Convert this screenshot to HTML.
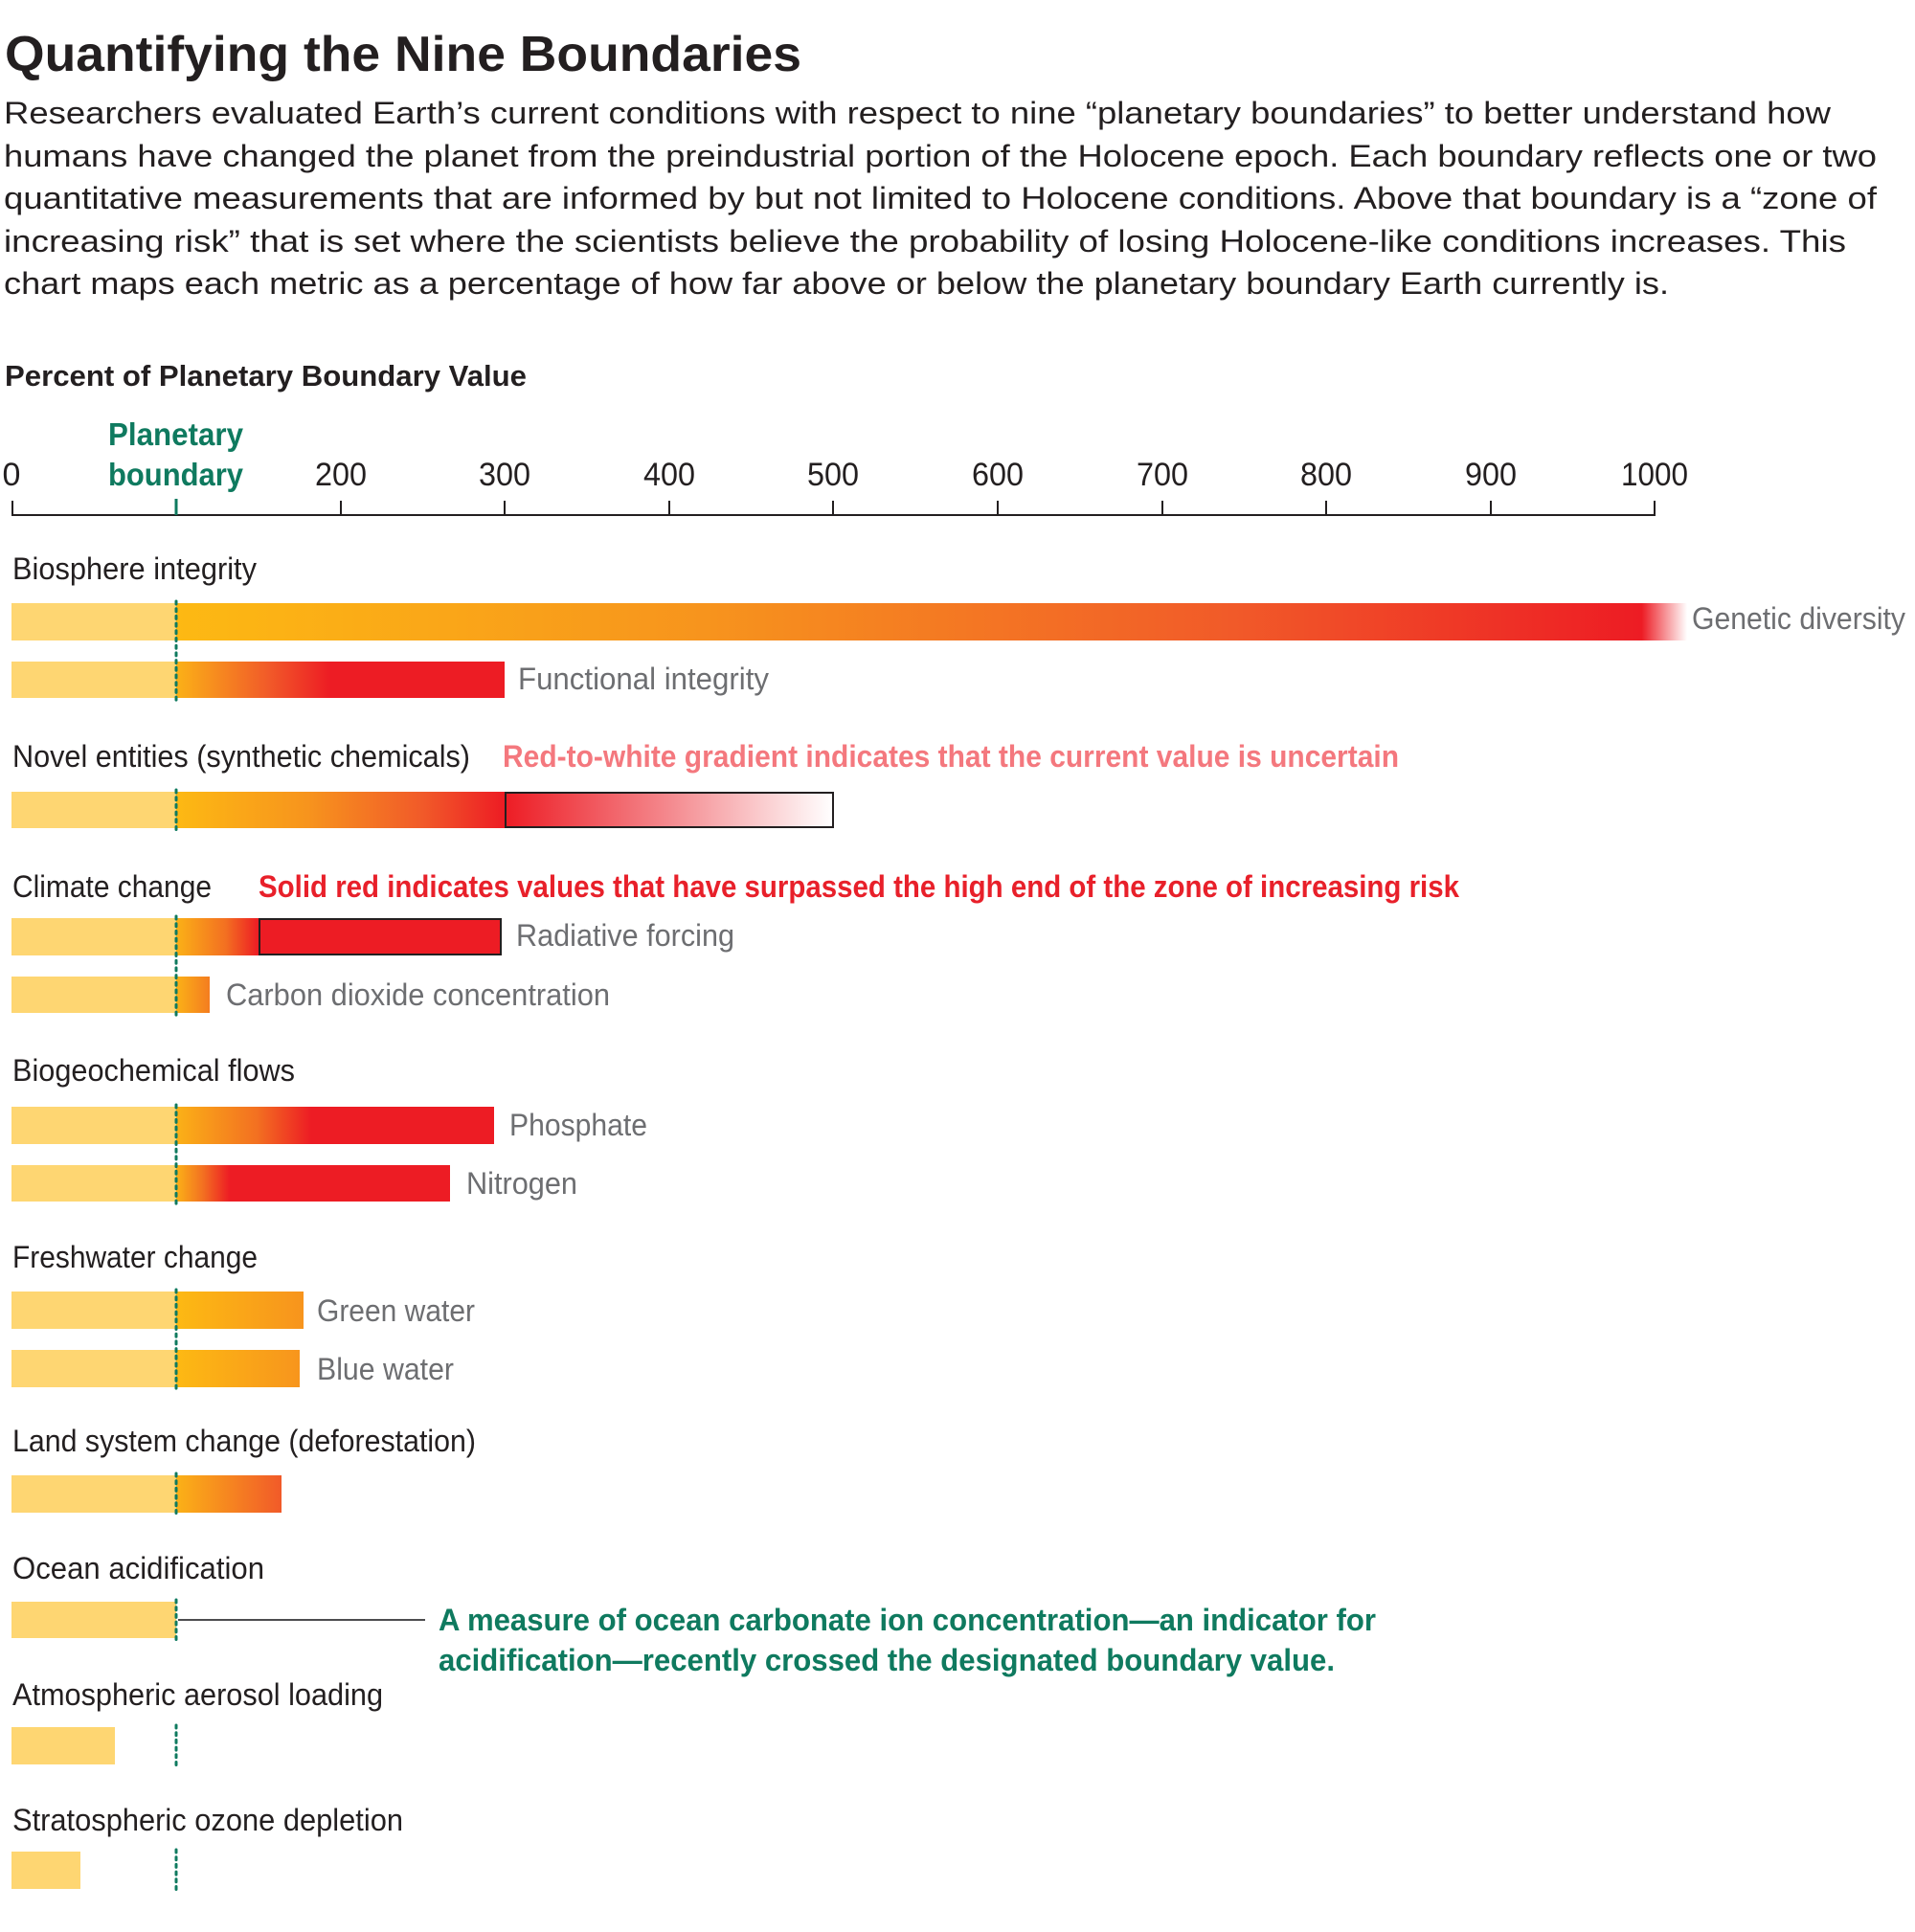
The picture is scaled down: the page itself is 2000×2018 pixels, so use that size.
<!DOCTYPE html>
<html><head><meta charset="utf-8"><style>html,body{margin:0;padding:0;background:#fff}svg{display:block}</style></head>
<body>
<svg width="2000" height="2018" viewBox="0 0 2000 2018" xmlns="http://www.w3.org/2000/svg" font-family="'Liberation Sans', sans-serif">
<defs>
<linearGradient id="gGen" gradientUnits="userSpaceOnUse" x1="184" x2="1762" y1="0" y2="0">
<stop offset="0" stop-color="#fdb913"/><stop offset="0.35" stop-color="#f7941d"/><stop offset="0.7" stop-color="#f15a29"/><stop offset="0.97" stop-color="#ed1c24"/><stop offset="1" stop-color="#fff"/>
</linearGradient>
<linearGradient id="gFun" gradientUnits="userSpaceOnUse" x1="184" x2="345" y1="0" y2="0">
<stop offset="0" stop-color="#fbb117"/><stop offset="0.6" stop-color="#f15a29"/><stop offset="1" stop-color="#ed1c24"/>
</linearGradient>
<linearGradient id="gNov" gradientUnits="userSpaceOnUse" x1="184" x2="527" y1="0" y2="0">
<stop offset="0" stop-color="#fdb913"/><stop offset="0.4" stop-color="#f7941d"/><stop offset="0.75" stop-color="#f15a29"/><stop offset="1" stop-color="#ed1c24"/>
</linearGradient>
<linearGradient id="gNovW" gradientUnits="userSpaceOnUse" x1="527" x2="870" y1="0" y2="0">
<stop offset="0" stop-color="#ed1c24"/><stop offset="0.5" stop-color="#f4898e"/><stop offset="1" stop-color="#fff"/>
</linearGradient>
<linearGradient id="gRad" gradientUnits="userSpaceOnUse" x1="184" x2="270" y1="0" y2="0">
<stop offset="0" stop-color="#fbb117"/><stop offset="0.6" stop-color="#f37021"/><stop offset="1" stop-color="#ed1c24"/>
</linearGradient>
<linearGradient id="gCO2" gradientUnits="userSpaceOnUse" x1="184" x2="220" y1="0" y2="0">
<stop offset="0" stop-color="#fbb117"/><stop offset="1" stop-color="#f47b20"/>
</linearGradient>
<linearGradient id="gPho" gradientUnits="userSpaceOnUse" x1="184" x2="325" y1="0" y2="0">
<stop offset="0" stop-color="#fbb117"/><stop offset="0.6" stop-color="#f37021"/><stop offset="1" stop-color="#ed1c24"/>
</linearGradient>
<linearGradient id="gNit" gradientUnits="userSpaceOnUse" x1="184" x2="240" y1="0" y2="0">
<stop offset="0" stop-color="#fbb117"/><stop offset="0.5" stop-color="#f37021"/><stop offset="1" stop-color="#ed1c24"/>
</linearGradient>
<linearGradient id="gWat" gradientUnits="userSpaceOnUse" x1="184" x2="317" y1="0" y2="0">
<stop offset="0" stop-color="#fdb913"/><stop offset="1" stop-color="#f7941d"/>
</linearGradient>
<linearGradient id="gLand" gradientUnits="userSpaceOnUse" x1="184" x2="294" y1="0" y2="0">
<stop offset="0" stop-color="#fbb117"/><stop offset="1" stop-color="#f15a29"/>
</linearGradient>
</defs>

<!-- Title & intro -->
<text x="5" y="74" font-size="52" font-weight="bold" fill="#231f20" textLength="832" lengthAdjust="spacingAndGlyphs">Quantifying the Nine Boundaries</text>
<g font-size="32" fill="#231f20">
<text x="4" y="129" textLength="1908" lengthAdjust="spacingAndGlyphs">Researchers evaluated Earth’s current conditions with respect to nine “planetary boundaries” to better understand how</text>
<text x="4" y="174" textLength="1956" lengthAdjust="spacingAndGlyphs">humans have changed the planet from the preindustrial portion of the Holocene epoch. Each boundary reflects one or two</text>
<text x="4" y="218" textLength="1956" lengthAdjust="spacingAndGlyphs">quantitative measurements that are informed by but not limited to Holocene conditions. Above that boundary is a “zone of</text>
<text x="4" y="263" textLength="1924" lengthAdjust="spacingAndGlyphs">increasing risk” that is set where the scientists believe the probability of losing Holocene-like conditions increases. This</text>
<text x="4" y="307" textLength="1739" lengthAdjust="spacingAndGlyphs">chart maps each metric as a percentage of how far above or below the planetary boundary Earth currently is.</text>
</g>
<text x="5" y="403" font-size="31" font-weight="bold" fill="#231f20" textLength="545" lengthAdjust="spacingAndGlyphs">Percent of Planetary Boundary Value</text>

<!-- Axis -->
<g font-size="34" fill="#231f20" text-anchor="middle">
<text x="12" y="507">0</text>
<text x="356" y="507" textLength="54" lengthAdjust="spacingAndGlyphs">200</text>
<text x="527" y="507" textLength="54" lengthAdjust="spacingAndGlyphs">300</text>
<text x="699" y="507" textLength="54" lengthAdjust="spacingAndGlyphs">400</text>
<text x="870" y="507" textLength="54" lengthAdjust="spacingAndGlyphs">500</text>
<text x="1042" y="507" textLength="54" lengthAdjust="spacingAndGlyphs">600</text>
<text x="1214" y="507" textLength="54" lengthAdjust="spacingAndGlyphs">700</text>
<text x="1385" y="507" textLength="54" lengthAdjust="spacingAndGlyphs">800</text>
<text x="1557" y="507" textLength="54" lengthAdjust="spacingAndGlyphs">900</text>
<text x="1728" y="507" textLength="70" lengthAdjust="spacingAndGlyphs">1000</text>
</g>
<g font-size="33" font-weight="bold" fill="#0f7a5f">
<text x="113" y="465" textLength="141" lengthAdjust="spacingAndGlyphs">Planetary</text>
<text x="113" y="507" textLength="141" lengthAdjust="spacingAndGlyphs">boundary</text>
</g>
<line x1="12" y1="538" x2="1729" y2="538" stroke="#231f20" stroke-width="2"/>
<g stroke="#231f20" stroke-width="2">
<line x1="13" y1="523" x2="13" y2="538"/>
<line x1="356" y1="523" x2="356" y2="538"/>
<line x1="527" y1="523" x2="527" y2="538"/>
<line x1="699" y1="523" x2="699" y2="538"/>
<line x1="870" y1="523" x2="870" y2="538"/>
<line x1="1042" y1="523" x2="1042" y2="538"/>
<line x1="1214" y1="523" x2="1214" y2="538"/>
<line x1="1385" y1="523" x2="1385" y2="538"/>
<line x1="1557" y1="523" x2="1557" y2="538"/>
<line x1="1728" y1="523" x2="1728" y2="538"/>
</g>
<line x1="184" y1="521" x2="184" y2="538" stroke="#0f7a5f" stroke-width="3"/>

<!-- Category labels -->
<g font-size="32" fill="#231f20">
<text x="13" y="605" textLength="255" lengthAdjust="spacingAndGlyphs">Biosphere integrity</text>
<text x="13" y="801" textLength="478" lengthAdjust="spacingAndGlyphs">Novel entities (synthetic chemicals)</text>
<text x="13" y="937" textLength="208" lengthAdjust="spacingAndGlyphs">Climate change</text>
<text x="13" y="1129" textLength="295" lengthAdjust="spacingAndGlyphs">Biogeochemical flows</text>
<text x="13" y="1324" textLength="256" lengthAdjust="spacingAndGlyphs">Freshwater change</text>
<text x="13" y="1516" textLength="484" lengthAdjust="spacingAndGlyphs">Land system change (deforestation)</text>
<text x="13" y="1649" textLength="263" lengthAdjust="spacingAndGlyphs">Ocean acidification</text>
<text x="13" y="1781" textLength="387" lengthAdjust="spacingAndGlyphs">Atmospheric aerosol loading</text>
<text x="13" y="1912" textLength="408" lengthAdjust="spacingAndGlyphs">Stratospheric ozone depletion</text>
</g>

<!-- Bars -->
<g>
<!-- genetic -->
<rect x="12" y="630" width="172" height="39" fill="#fed672"/>
<rect x="184" y="630" width="1578" height="39" fill="url(#gGen)"/>
<!-- functional -->
<rect x="12" y="691" width="172" height="38" fill="#fed672"/>
<rect x="184" y="691" width="343" height="38" fill="url(#gFun)"/>
<!-- novel -->
<rect x="12" y="827" width="172" height="38" fill="#fed672"/>
<rect x="184" y="827" width="343" height="38" fill="url(#gNov)"/>
<rect x="528" y="828" width="342" height="36" fill="url(#gNovW)" stroke="#231f20" stroke-width="2"/>
<!-- radiative -->
<rect x="12" y="959" width="172" height="39" fill="#fed672"/>
<rect x="184" y="959" width="86" height="39" fill="url(#gRad)"/>
<rect x="271" y="960" width="252" height="37" fill="#ed1c24" stroke="#231f20" stroke-width="2"/>
<!-- co2 -->
<rect x="12" y="1020" width="172" height="38" fill="#fed672"/>
<rect x="184" y="1020" width="35" height="38" fill="url(#gCO2)"/>
<!-- phosphate -->
<rect x="12" y="1156" width="172" height="39" fill="#fed672"/>
<rect x="184" y="1156" width="332" height="39" fill="url(#gPho)"/>
<!-- nitrogen -->
<rect x="12" y="1217" width="172" height="38" fill="#fed672"/>
<rect x="184" y="1217" width="286" height="38" fill="url(#gNit)"/>
<!-- green water -->
<rect x="12" y="1349" width="172" height="39" fill="#fed672"/>
<rect x="184" y="1349" width="133" height="39" fill="url(#gWat)"/>
<!-- blue water -->
<rect x="12" y="1410" width="172" height="39" fill="#fed672"/>
<rect x="184" y="1410" width="129" height="39" fill="url(#gWat)"/>
<!-- land -->
<rect x="12" y="1541" width="172" height="39" fill="#fed672"/>
<rect x="184" y="1541" width="110" height="39" fill="url(#gLand)"/>
<!-- ocean -->
<rect x="12" y="1673" width="172" height="38" fill="#fed672"/>
<!-- aerosol -->
<rect x="12" y="1804" width="108" height="39" fill="#fed672"/>
<!-- ozone -->
<rect x="12" y="1934" width="72" height="39" fill="#fed672"/>
</g>

<!-- dotted boundary line segments -->
<g stroke="#0f7a5f" stroke-width="3" stroke-dasharray="3 4.7" stroke-linecap="round">
<line x1="184" y1="628" x2="184" y2="732"/>
<line x1="184" y1="825" x2="184" y2="868"/>
<line x1="184" y1="957" x2="184" y2="1061"/>
<line x1="184" y1="1154" x2="184" y2="1258"/>
<line x1="184" y1="1347" x2="184" y2="1452"/>
<line x1="184" y1="1539" x2="184" y2="1583"/>
<line x1="184" y1="1671" x2="184" y2="1714"/>
<line x1="184" y1="1802" x2="184" y2="1846"/>
<line x1="184" y1="1932" x2="184" y2="1976"/>
</g>

<!-- series labels -->
<g font-size="32" fill="#6d6e71">
<text x="1767" y="657" textLength="223" lengthAdjust="spacingAndGlyphs">Genetic diversity</text>
<text x="541" y="720" textLength="262" lengthAdjust="spacingAndGlyphs">Functional integrity</text>
<text x="539" y="988" textLength="228" lengthAdjust="spacingAndGlyphs">Radiative forcing</text>
<text x="236" y="1050" textLength="401" lengthAdjust="spacingAndGlyphs">Carbon dioxide concentration</text>
<text x="532" y="1186" textLength="144" lengthAdjust="spacingAndGlyphs">Phosphate</text>
<text x="487" y="1247" textLength="116" lengthAdjust="spacingAndGlyphs">Nitrogen</text>
<text x="331" y="1380" textLength="165" lengthAdjust="spacingAndGlyphs">Green water</text>
<text x="331" y="1441" textLength="143" lengthAdjust="spacingAndGlyphs">Blue water</text>
</g>

<!-- annotations -->
<text x="525" y="801" font-size="32" font-weight="bold" fill="#f4787e" textLength="936" lengthAdjust="spacingAndGlyphs">Red-to-white gradient indicates that the current value is uncertain</text>
<text x="270" y="937" font-size="32" font-weight="bold" fill="#e8202a" textLength="1254" lengthAdjust="spacingAndGlyphs">Solid red indicates values that have surpassed the high end of the zone of increasing risk</text>
<line x1="186" y1="1692" x2="444" y2="1692" stroke="#4d4d4f" stroke-width="2"/>
<g font-size="32" font-weight="bold" fill="#0f7a5f">
<text x="458" y="1703" textLength="979" lengthAdjust="spacingAndGlyphs">A measure of ocean carbonate ion concentration—an indicator for</text>
<text x="458" y="1745" textLength="936" lengthAdjust="spacingAndGlyphs">acidification—recently crossed the designated boundary value.</text>
</g>
</svg>
</body></html>
